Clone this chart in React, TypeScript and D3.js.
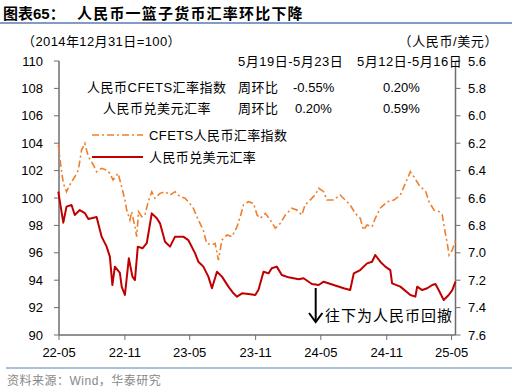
import * as d3 from 'd3';

// CFETS 人民币汇率指数 (left axis, 2014-12-31 = 100)
const cfetsDates = [
  '2022-04-29', '2022-05-04', '2022-05-13', '2022-05-22', '2022-05-31', '2022-06-14', '2022-06-24',
  '2022-07-03', '2022-07-12', '2022-07-22', '2022-08-05', '2022-08-14', '2022-08-28', '2022-09-11',
  '2022-09-20', '2022-09-29', '2022-10-13', '2022-10-23', '2022-11-01', '2022-11-06', '2022-11-15',
  '2022-11-20', '2022-11-29', '2022-12-04', '2022-12-09', '2022-12-18', '2022-12-27', '2023-01-05',
  '2023-01-15', '2023-01-24', '2023-02-07', '2023-02-21', '2023-03-07', '2023-03-21', '2023-04-04',
  '2023-04-18', '2023-04-27', '2023-05-11', '2023-05-25', '2023-06-08', '2023-06-17', '2023-07-02',
  '2023-07-11', '2023-07-20', '2023-07-30', '2023-08-13', '2023-08-27', '2023-09-10', '2023-09-19',
  '2023-09-28', '2023-10-12', '2023-10-26', '2023-11-05', '2023-11-14', '2023-11-28', '2023-12-12',
  '2023-12-26', '2024-01-09', '2024-01-23', '2024-02-10', '2024-02-24', '2024-03-09', '2024-03-18',
  '2024-04-01', '2024-04-15', '2024-04-25', '2024-05-09', '2024-05-18', '2024-06-06', '2024-06-24',
  '2024-07-08', '2024-07-22', '2024-08-05', '2024-08-19', '2024-08-28', '2024-09-07', '2024-09-21',
  '2024-09-30', '2024-10-14', '2024-11-02', '2024-11-21', '2024-12-09', '2024-12-23', '2025-01-06',
  '2025-01-16', '2025-01-30', '2025-02-18', '2025-02-27', '2025-03-13', '2025-03-27', '2025-04-05',
  '2025-04-12', '2025-04-19', '2025-04-24', '2025-05-03', '2025-05-12',
];
const cfetsValues = [
  103.87, 102.77, 101.07, 100.46, 100.95, 101.55, 102.04,
  103.5, 103.99, 103.01, 102.41, 101.92, 102.17, 102.04,
  101.8, 101.31, 101.8, 100.82, 99.85, 99.12, 98.39,
  99.0, 97.9, 97.18, 99.0, 98.63, 98.76, 99.73,
  100.46, 99.98, 100.34, 100.46, 100.22, 100.46, 100.1,
  99.98, 99.73, 99.25, 98.39, 97.66, 96.69, 96.57,
  96.69, 95.47, 96.93, 97.3, 97.18, 97.9, 98.63,
  99.49, 99.73, 99.61, 98.76, 98.52, 98.88, 98.39,
  97.79, 98.15, 98.76, 99.25, 99.12, 98.76, 99.49,
  99.85, 100.22, 100.71, 100.46, 99.85, 99.85, 100.22,
  99.85, 99.49, 98.88, 98.52, 97.66, 98.03, 97.9,
  98.52, 99.25, 99.73, 99.85, 100.22, 101.07, 101.92,
  101.55, 100.95, 100.46, 99.73, 99.12, 99.0, 98.76,
  97.66, 96.69, 95.84, 96.2, 96.93,
];

// 人民币兑美元汇率 (right axis, inverted)
const usdDates = [
  '2022-04-29', '2022-05-13', '2022-05-22', '2022-06-05', '2022-06-14', '2022-06-28', '2022-07-12',
  '2022-07-22', '2022-08-14', '2022-08-28', '2022-09-11', '2022-09-20', '2022-09-27', '2022-10-04',
  '2022-10-18', '2022-10-23', '2022-11-01', '2022-11-12', '2022-11-22', '2022-11-29', '2022-12-07',
  '2022-12-20', '2023-01-01', '2023-01-15', '2023-01-29', '2023-02-07', '2023-02-21', '2023-03-07',
  '2023-03-21', '2023-04-13', '2023-04-27', '2023-05-16', '2023-05-25', '2023-06-08', '2023-06-22',
  '2023-07-02', '2023-07-16', '2023-07-30', '2023-08-17', '2023-08-31', '2023-09-10', '2023-09-24',
  '2023-10-12', '2023-10-31', '2023-11-09', '2023-11-23', '2023-12-07', '2023-12-16', '2023-12-30',
  '2024-01-13', '2024-02-01', '2024-02-29', '2024-03-14', '2024-04-06', '2024-04-25', '2024-05-09',
  '2024-06-06', '2024-07-04', '2024-07-22', '2024-08-01', '2024-08-19', '2024-09-07', '2024-09-21',
  '2024-09-30', '2024-10-14', '2024-10-28', '2024-11-11', '2024-11-16', '2024-12-09', '2025-01-06',
  '2025-01-20', '2025-01-25', '2025-02-08', '2025-02-22', '2025-03-08', '2025-03-17', '2025-03-26',
  '2025-04-09', '2025-04-23', '2025-05-03', '2025-05-12',
];
const usdValues = [
  6.554, 6.78, 6.663, 6.651, 6.724, 6.688, 6.71,
  6.753, 6.739, 6.882, 6.955, 7.028, 7.235, 7.101,
  7.147, 7.247, 7.308, 7.04, 7.174, 7.199, 6.955,
  6.967, 6.93, 6.712, 6.748, 6.785, 6.919, 6.955,
  6.882, 6.882, 6.907, 7.004, 7.065, 7.101, 7.174,
  7.259, 7.138, 7.174, 7.247, 7.296, 7.32, 7.296,
  7.30, 7.308, 7.27, 7.138, 7.15, 7.113, 7.101,
  7.162, 7.179, 7.193, 7.186, 7.228, 7.235, 7.211,
  7.235, 7.259, 7.272, 7.15, 7.126, 7.077, 7.065,
  7.016, 7.065, 7.101, 7.126, 7.223, 7.247, 7.308,
  7.32, 7.247, 7.272, 7.259, 7.235, 7.228, 7.272,
  7.345, 7.308, 7.272, 7.211,
];

const leftTicks = [90, 92, 94, 96, 98, 100, 102, 104, 106, 108, 110];
const rightTicks = [5.6, 5.8, 6.0, 6.2, 6.4, 6.6, 6.8, 7.0, 7.2, 7.4, 7.6];
const xTickDates = ['2022-05-01', '2022-11-01', '2023-05-01', '2023-11-01', '2024-05-01', '2024-11-01', '2025-05-01'];

const tableHeaders = ['5月19日-5月23日', '5月12日-5月16日'];
const tableRows = ['人民币CFETS汇率指数', '人民币兑美元汇率'];
const tableChanges = [['-0.55%', '0.20%'], ['0.20%', '0.59%']];

const W = 516;
const H = 392;
const FONT = '"Liberation Sans", Arial, "Noto Sans CJK SC", sans-serif';
const ORANGE = '#ef7f2d';
const RED = '#c00000';
const AXIS = '#6e6e6e';

const parse = d3.timeParse('%Y-%m-%d');

export default function App() {
  const left = 59;
  const right = 455.5;
  const top = 61;
  const bottom = 335;

  const x = d3.scaleTime()
    .domain([parse('2022-05-01')!, parse('2025-05-12')!])
    .range([left, right]);
  const yL = d3.scaleLinear().domain([90, 110]).range([bottom, top]);
  const yR = d3.scaleLinear().domain([5.6, 7.6]).range([top, bottom]);

  const cfets = cfetsDates.map((d, i) => ({ d: parse(d)!, v: cfetsValues[i] }));
  const usd = usdDates.map((d, i) => ({ d: parse(d)!, v: usdValues[i] }));

  const cfetsLine = d3.line<{ d: Date; v: number }>().x(p => x(p.d)).y(p => yL(p.v));
  const usdLine = d3.line<{ d: Date; v: number }>().x(p => x(p.d)).y(p => yR(p.v));
  const fmt = d3.timeFormat('%y-%m');

  return (
    <svg width={W} height={H} style={{ position: 'absolute', left: 0, top: 0, background: '#fff' }}
      fontFamily={FONT}>
      {/* title */}
      <text x={3} y={19} fontSize={15} fontWeight="bold" fill="#000">图表65：</text>
      <text x={77} y={19} fontSize={15} fontWeight="bold" fill="#000" letterSpacing={1.2}>人民币一篮子货币汇率环比下降</text>
      <line x1={0} x2={512} y1={23} y2={23} stroke="#5a7bb0" strokeWidth={1.5} />

      <text x={22} y={46} fontSize={13} fill="#000" letterSpacing={0.4}>（2014年12月31日=100）</text>
      <text x={498} y={46} fontSize={13} fill="#000" textAnchor="end" letterSpacing={0.6}>（人民币/美元）</text>

      {/* axes */}
      <line x1={left} x2={left} y1={top} y2={bottom} stroke={AXIS} strokeWidth={1.5} />
      <line x1={right} x2={right} y1={top} y2={bottom} stroke={AXIS} strokeWidth={1.5} />
      <line x1={left} x2={right} y1={bottom} y2={bottom} stroke={AXIS} strokeWidth={1.5} />
      {leftTicks.map(t => (
        <g key={'l' + t}>
          <line x1={left - 5} x2={left} y1={yL(t)} y2={yL(t)} stroke={AXIS} />
          <text x={43} y={yL(t)} dy="0.35em" fontSize={13} textAnchor="end" fill="#000">{t}</text>
        </g>
      ))}
      {rightTicks.map(t => (
        <g key={'r' + t}>
          <line x1={right} x2={right + 5} y1={yR(t)} y2={yR(t)} stroke={AXIS} />
          <text x={468} y={yR(t)} dy="0.35em" fontSize={13} fill="#000">{t.toFixed(1)}</text>
        </g>
      ))}
      {xTickDates.map(s => {
        const d = parse(s)!;
        return (
          <g key={s}>
            <line x1={x(d)} x2={x(d)} y1={bottom} y2={bottom + 5} stroke={AXIS} />
            <text x={x(d)} y={357} fontSize={13} textAnchor="middle" fill="#000">{fmt(d)}</text>
          </g>
        );
      })}

      {/* series */}
      <path d={cfetsLine(cfets) ?? ''} fill="none" stroke={ORANGE} strokeWidth={1.6}
        strokeDasharray="7,3,2,3" />
      <path d={usdLine(usd) ?? ''} fill="none" stroke={RED} strokeWidth={2} strokeLinejoin="round" />

      {/* weekly change table */}
      {tableHeaders.map((h, i) => (
        <text key={h} x={[238, 357][i]} y={66} fontSize={13} fill="#000" letterSpacing={0.5}>{h}</text>
      ))}
      {tableRows.map((r, i) => (
        <g key={r}>
          <text x={[87, 103][i]} y={[92, 113][i]} fontSize={13} fill="#000" letterSpacing={0.5}>{r}</text>
          <text x={238} y={[92, 113][i]} fontSize={13} fill="#000" letterSpacing={0.5}>周环比</text>
          <text x={[293, 295][i]} y={[92, 113][i]} fontSize={13} fill="#000">{tableChanges[i][0]}</text>
          <text x={383} y={[92, 113][i]} fontSize={13} fill="#000">{tableChanges[i][1]}</text>
        </g>
      ))}

      {/* legend */}
      <line x1={92} x2={143} y1={135} y2={135} stroke={ORANGE} strokeWidth={1.6} strokeDasharray="7,3,2,3" />
      <text x={149} y={135} dy="0.35em" fontSize={13} fill="#000" letterSpacing={0.4}>CFETS人民币汇率指数</text>
      <line x1={92} x2={143} y1={157} y2={157} stroke={RED} strokeWidth={2} />
      <text x={149} y={157} dy="0.35em" fontSize={13} fill="#000" letterSpacing={0.4}>人民币兑美元汇率</text>

      {/* arrow annotation */}
      <line x1={315.7} x2={315.7} y1={288} y2={322} stroke="#000" strokeWidth={2} />
      <polyline points="309,313 315.7,322 322.4,313" fill="none" stroke="#000" strokeWidth={2} />
      <text x={325} y={316} dy="0.35em" fontSize={15} fill="#000" letterSpacing={1}>往下为人民币回撤</text>

      {/* source */}
      <line x1={6} x2={512} y1={368} y2={368} stroke="#a9c0d9" strokeWidth={2} />
      <text x={7} y={385} fontSize={12} fill="#888" letterSpacing={0.5}>资料来源：Wind，华泰研究</text>
    </svg>
  );
}
